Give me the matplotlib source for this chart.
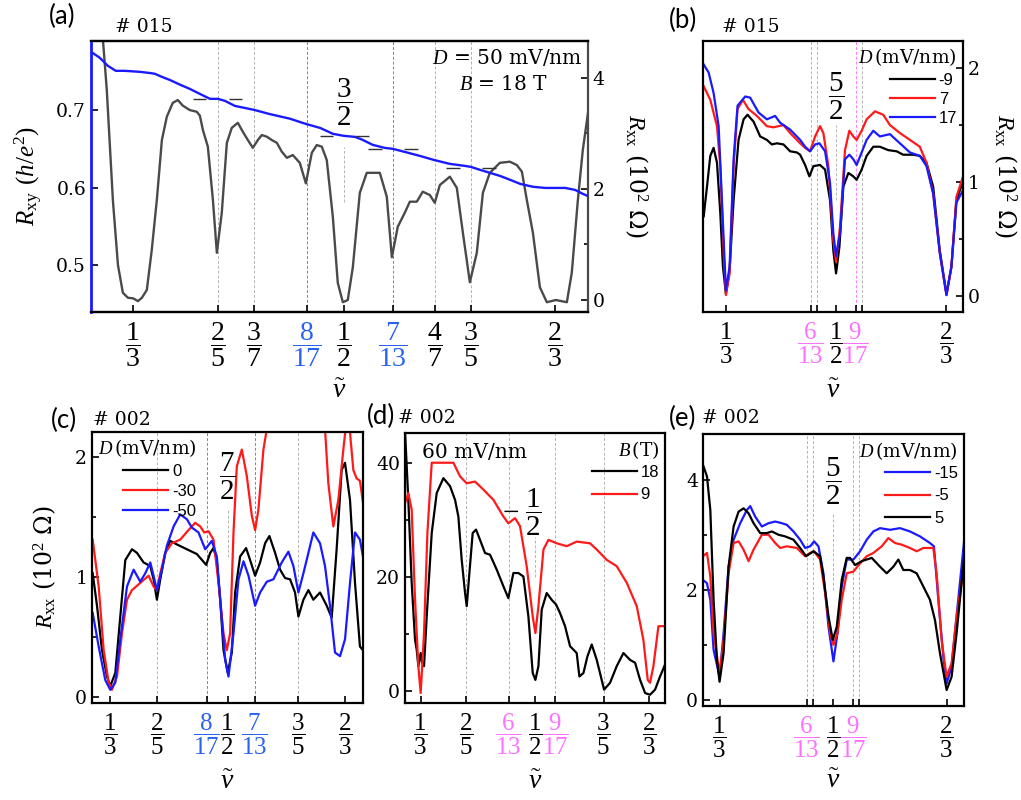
import matplotlib
matplotlib.use("Agg")
import matplotlib.pyplot as plt
from matplotlib.ticker import MultipleLocator

plt.rcParams["font.family"] = ["DejaVu Serif"]
plt.rcParams["mathtext.fontset"] = "custom"
plt.rcParams["mathtext.rm"] = "Liberation Serif"
plt.rcParams["mathtext.it"] = "Liberation Serif:italic"
plt.rcParams["mathtext.bf"] = "Liberation Serif:bold"

FRAC = {"1/3": 1/3, "2/5": 2/5, "3/7": 3/7, "6/13": 6/13, "8/17": 8/17, "1/2": 1/2,
        "9/17": 9/17, "7/13": 7/13, "4/7": 4/7, "3/5": 3/5, "2/3": 2/3}

GRAY_DASH = "#b4b4b4"
BLUE_DASH = "#5a82ff"
PINK_DASH = "#ff80ff"
BLUE_TXT = "#2a62f0"
PINK_TXT = "#ff70ff"
RED = "#ff1a1a"
BLUE = "#1a1aff"

# ---------- (a) sample #015, D = 50 mV/nm, B = 18 T
a_nu_xx = [0.3065, 0.3095, 0.3125, 0.3173, 0.3213, 0.3252, 0.3292, 0.3333, 0.3371, 0.3402,
           0.3441, 0.348, 0.352, 0.356, 0.3599, 0.3646, 0.3686, 0.3725, 0.378, 0.3835,
           0.386, 0.3884, 0.3923, 0.3963, 0.3994, 0.4033, 0.4073, 0.4112, 0.416, 0.4199,
           0.4239, 0.4278, 0.4318, 0.4349, 0.4389, 0.4428, 0.4468, 0.4507, 0.4547, 0.4594,
           0.4649, 0.4697, 0.4744, 0.4783, 0.4823, 0.4862, 0.491, 0.4949, 0.4989, 0.5028,
           0.5068, 0.5123, 0.5178, 0.5281, 0.5336, 0.5376, 0.5423, 0.5478, 0.5518, 0.5573,
           0.562, 0.5676, 0.5715, 0.5755, 0.5834, 0.5889, 0.5937, 0.5992, 0.6047, 0.6095,
           0.615, 0.6229, 0.6308, 0.6363, 0.6403, 0.6442, 0.649, 0.6545, 0.66, 0.6671,
           0.6758, 0.6797, 0.6845, 0.6884, 0.6925]
a_rxx = [5.2, 4.67, 3.78, 1.80, 0.63, 0.13, 0.04, 0.03, -0.02, 0.04,
         0.18, 0.90, 1.80, 2.88, 3.30, 3.55, 3.60, 3.50, 3.42, 3.39,
         3.32, 3.06, 2.76, 1.80, 0.85, 1.57, 2.83, 3.10, 3.19, 3.03,
         2.88, 2.74, 2.88, 2.97, 2.94, 2.88, 2.83, 2.67, 2.56, 2.61,
         2.47, 2.10, 2.65, 2.79, 2.76, 2.52, 1.50, 0.31, -0.04, 0.0,
         0.59, 1.93, 2.29, 2.29, 1.86, 0.77, 1.32, 1.57, 1.77, 1.77,
         1.95, 1.89, 1.75, 2.07, 2.22, 2.02, 1.21, 0.32, 0.85, 1.93,
         2.29, 2.47, 2.49, 2.43, 2.31, 1.80, 1.21, 0.23, -0.04, 0.0,
         -0.04, 0.49, 1.80, 2.70, 3.37]

a_nu_xy = [0.300, 0.307, 0.3133, 0.3196, 0.3267, 0.3386, 0.3465, 0.3504, 0.356, 0.3623,
           0.3702, 0.378, 0.386, 0.394, 0.4003, 0.4058, 0.4136, 0.4287, 0.441, 0.457,
           0.4697, 0.481, 0.4911, 0.4997, 0.5083, 0.514, 0.5226, 0.5321, 0.5384, 0.5479,
           0.5597, 0.5707, 0.5833, 0.5952, 0.600, 0.607, 0.615, 0.6229, 0.631, 0.639,
           0.649, 0.6586, 0.6745, 0.6822, 0.6886, 0.6925]
a_rxy = [0.7754, 0.7676, 0.7573, 0.7508, 0.7508, 0.7495, 0.748, 0.747, 0.743, 0.739,
         0.733, 0.7275, 0.721, 0.7146, 0.7146, 0.712, 0.7055, 0.7004, 0.695, 0.689,
         0.6822, 0.677, 0.6694, 0.6668, 0.6655, 0.662, 0.6551, 0.6512, 0.650, 0.646,
         0.6409, 0.6357, 0.6306, 0.628, 0.6267, 0.623, 0.619, 0.6151, 0.610, 0.6047,
         0.601, 0.5995, 0.5995, 0.597, 0.5917, 0.589]
a_plateaus = ["2/5", "1/2", "7/13", "3/5"]

# ---------- (b) sample #015, D (mV/nm) = -9, 7, 17
b_nu_m9 = [0.2997, 0.3047, 0.3097, 0.3147, 0.3198, 0.3248, 0.3288, 0.3333, 0.3389, 0.3449,
           0.3524, 0.36, 0.366, 0.3751, 0.3851, 0.3952, 0.4027, 0.4103, 0.4203, 0.4304,
           0.4404, 0.4455, 0.453, 0.4595, 0.4656, 0.4756, 0.4832, 0.4907, 0.4957, 0.4998,
           0.5048, 0.5108, 0.5184, 0.5259, 0.5309, 0.5385, 0.546, 0.5561, 0.5661, 0.5787,
           0.5913, 0.6013, 0.6164, 0.6264, 0.6365, 0.6466, 0.6566, 0.6667, 0.6742, 0.6817,
           0.6918]
b_m9 = [0.70, 0.96, 1.23, 1.30, 1.17, 0.73, 0.26, 0.02, 0.23, 0.84,
        1.37, 1.55, 1.59, 1.53, 1.40, 1.37, 1.33, 1.34, 1.33, 1.27,
        1.26, 1.24, 1.15, 1.05, 1.14, 1.15, 1.11, 0.84, 0.40, 0.20,
        0.43, 0.96, 1.08, 1.05, 1.02, 1.11, 1.23, 1.31, 1.31, 1.28,
        1.27, 1.24, 1.24, 1.23, 1.17, 0.96, 0.40, 0.02, 0.26, 0.84,
        1.01]
b_nu_7 = [0.2997, 0.3097, 0.3198, 0.3248, 0.3298, 0.3333, 0.3389, 0.3449, 0.3509, 0.359,
          0.3675, 0.3801, 0.3952, 0.4052, 0.4203, 0.4304, 0.4455, 0.453, 0.4605, 0.4681,
          0.4756, 0.4806, 0.4882, 0.4957, 0.4998, 0.5058, 0.5133, 0.5199, 0.5259, 0.5309,
          0.5385, 0.546, 0.5586, 0.5711, 0.5812, 0.5963, 0.6114, 0.6264, 0.6365, 0.6466,
          0.6566, 0.6667, 0.6742, 0.6817, 0.6918]
b_7 = [1.84, 1.72, 1.49, 1.14, 0.40, 0.01, 0.20, 1.14, 1.64, 1.72,
       1.64, 1.58, 1.49, 1.48, 1.50, 1.43, 1.34, 1.30, 1.27, 1.40,
       1.49, 1.43, 1.14, 0.49, 0.30, 0.61, 1.28, 1.45, 1.40, 1.37,
       1.45, 1.55, 1.62, 1.59, 1.50, 1.43, 1.37, 1.31, 1.17, 0.90,
       0.38, 0.01, 0.26, 0.87, 1.05]
b_nu_17 = [0.2997, 0.3072, 0.3147, 0.3223, 0.3273, 0.3333, 0.3389, 0.3449, 0.3509, 0.3625,
           0.37, 0.3826, 0.3952, 0.4077, 0.4153, 0.4304, 0.4455, 0.453, 0.4605, 0.4681,
           0.4746, 0.4832, 0.4907, 0.4957, 0.4998, 0.5058, 0.5133, 0.5199, 0.5259, 0.5309,
           0.5385, 0.546, 0.5561, 0.5661, 0.5812, 0.5963, 0.6114, 0.6264, 0.6365, 0.6466,
           0.6566, 0.6667, 0.6742, 0.6817, 0.6918]
b_17 = [2.03, 1.96, 1.78, 1.49, 0.84, 0.05, 0.26, 1.20, 1.67, 1.75,
        1.74, 1.61, 1.55, 1.58, 1.52, 1.46, 1.37, 1.31, 1.27, 1.33,
        1.34, 1.27, 0.99, 0.55, 0.35, 0.55, 1.20, 1.24, 1.20, 1.15,
        1.26, 1.37, 1.45, 1.40, 1.42, 1.34, 1.26, 1.23, 1.14, 0.90,
        0.38, 0.01, 0.26, 0.82, 0.93]

# ---------- (c) sample #002, D (mV/nm) = 0, -30, -50
c_nu_0 = [0.3083, 0.3144, 0.3215, 0.3286, 0.3333, 0.3404, 0.3475, 0.3546, 0.3641, 0.3712,
          0.3806, 0.3901, 0.3948, 0.3995, 0.4043, 0.4113, 0.4184, 0.4279, 0.4421, 0.4563,
          0.4695, 0.4752, 0.4799, 0.4846, 0.4894, 0.4941, 0.5002, 0.5059, 0.5106, 0.5177,
          0.5262, 0.5319, 0.539, 0.5461, 0.5532, 0.5593, 0.5674, 0.5745, 0.5816, 0.5887,
          0.5957, 0.6005, 0.6076, 0.6147, 0.6217, 0.6312, 0.6407, 0.6478, 0.6548, 0.6619,
          0.6667, 0.6738, 0.6809, 0.6879, 0.6922]
c_0 = [1.03, 0.76, 0.39, 0.17, 0.09, 0.20, 0.67, 1.14, 1.23, 1.20,
       1.12, 1.09, 0.98, 0.81, 0.98, 1.20, 1.30, 1.27, 1.23, 1.19,
       1.10, 1.20, 1.24, 1.14, 0.81, 0.39, 0.20, 0.37, 0.87, 1.17,
       1.24, 1.14, 1.01, 1.12, 1.28, 1.34, 1.20, 1.06, 0.99, 0.98,
       0.87, 0.67, 0.81, 0.89, 0.81, 0.87, 0.76, 0.66, 1.23, 1.89,
       1.95, 1.64, 0.95, 0.42, 0.39]
c_nu_m30 = [0.3083, 0.3168, 0.3239, 0.331, 0.3357, 0.3428, 0.3499, 0.357, 0.3641, 0.3759,
            0.3877, 0.3948, 0.3995, 0.4043, 0.4113, 0.4208, 0.4326, 0.4444, 0.4539, 0.461,
            0.4667, 0.4728, 0.4799, 0.487, 0.4941, 0.4988, 0.5035, 0.5083, 0.513, 0.5201,
            0.5272, 0.5343, 0.539, 0.5437, 0.5508, 0.5556, 0.5603, 0.597, 0.6336, 0.6383,
            0.643, 0.6501, 0.6572, 0.6643, 0.669, 0.6714, 0.6747, 0.6785, 0.6832, 0.6879,
            0.6922]
c_m30 = [1.31, 0.92, 0.39, 0.12, 0.06, 0.17, 0.53, 0.81, 0.89, 0.95,
         1.01, 0.92, 0.89, 1.03, 1.20, 1.28, 1.31, 1.39, 1.45, 1.42,
         1.37, 1.38, 1.31, 0.95, 0.53, 0.39, 0.53, 1.37, 1.92, 2.06,
         1.84, 1.51, 1.39, 1.56, 2.06, 2.23, 2.48, float("nan"), 2.48, 2.23,
         1.78, 1.42, 1.64, 2.06, 2.31, 2.39, 2.14, 1.89, 1.82, 1.80,
         1.62]
c_nu_m50 = [0.3083, 0.3168, 0.3262, 0.3333, 0.3404, 0.3475, 0.357, 0.3664, 0.3759, 0.383,
            0.3901, 0.3948, 0.3995, 0.4066, 0.4137, 0.4232, 0.4326, 0.4421, 0.4492, 0.4586,
            0.4681, 0.4775, 0.4846, 0.4894, 0.4965, 0.5012, 0.5083, 0.5154, 0.5225, 0.5296,
            0.539, 0.5461, 0.5556, 0.565, 0.5768, 0.5863, 0.5934, 0.6005, 0.6076, 0.6147,
            0.6217, 0.6312, 0.6383, 0.6454, 0.6525, 0.6596, 0.6667, 0.6738, 0.6809, 0.6879,
            0.6922]
c_m50 = [0.70, 0.42, 0.14, 0.06, 0.12, 0.48, 0.92, 1.06, 0.96, 1.03,
         1.12, 1.01, 0.89, 1.06, 1.26, 1.42, 1.52, 1.48, 1.41, 1.37,
         1.23, 1.30, 1.17, 0.81, 0.31, 0.17, 0.53, 0.98, 1.13, 1.01,
         0.76, 0.87, 0.96, 0.98, 1.12, 1.21, 1.09, 0.87, 1.03, 1.20,
         1.37, 1.28, 1.09, 0.76, 0.37, 0.34, 0.48, 0.95, 1.37, 1.31,
         1.17]

# ---------- (d) sample #002, 60 mV/nm, B = 18 T and 9 T
d_nu_18 = [0.3105, 0.3153, 0.3202, 0.3251, 0.3275, 0.3299, 0.3333, 0.3353, 0.3382, 0.3421,
           0.3494, 0.3567, 0.3664, 0.3761, 0.3834, 0.3882, 0.3931, 0.398, 0.4004, 0.4043,
           0.4091, 0.414, 0.4198, 0.4271, 0.4344, 0.4441, 0.4538, 0.4611, 0.4684, 0.4757,
           0.483, 0.4903, 0.4966, 0.5005, 0.5049, 0.5097, 0.517, 0.5243, 0.5306, 0.5364,
           0.5437, 0.551, 0.5559, 0.5607, 0.5646, 0.5705, 0.5763, 0.5826, 0.5899, 0.6006,
           0.6093, 0.619, 0.6288, 0.6385, 0.6458, 0.6531, 0.6604, 0.6676, 0.6749, 0.6822,
           0.6895]
d_18 = [45.5, 33.5, 19.0, 9.0, 7.3, 4.4, 6.7, 5.0, 4.4, 13.1,
        27.7, 34.7, 37.3, 35.9, 33.5, 30.6, 23.0, 17.2, 14.9, 20.7,
        27.7, 28.3, 26.5, 24.2, 23.9, 21.3, 18.4, 16.3, 20.7, 20.7,
        20.1, 13.1, 3.2, 2.0, 4.4, 14.3, 17.2, 16.0, 15.2, 13.7,
        11.4, 7.9, 7.3, 6.7, 2.6, 3.2, 6.1, 8.2, 5.5, 0.3,
        1.5, 4.4, 6.7, 5.5, 5.0, 2.0, -0.3, -0.6, 0.3, 2.6,
        4.7]
d_nu_9 = [0.3105, 0.3153, 0.3202, 0.3251, 0.3299, 0.3333, 0.3382, 0.3431, 0.3494, 0.381,
          0.3907, 0.4004, 0.4125, 0.4247, 0.4393, 0.4538, 0.4611, 0.4708, 0.4781, 0.4878,
          0.4966, 0.5005, 0.5049, 0.5122, 0.5194, 0.5316, 0.5462, 0.5607, 0.5802, 0.5899,
          0.6045, 0.619, 0.6336, 0.6482, 0.6579, 0.6642, 0.6676, 0.6725, 0.6798, 0.6895]
d_9 = [32.9, 34.7, 31.8, 16.0, 4.4, -0.3, 10.2, 27.7, 40.0, 40.0,
       37.6, 36.4, 36.7, 35.3, 33.5, 30.6, 29.4, 30.3, 28.9, 21.9,
       13.1, 10.2, 14.9, 24.8, 26.5, 25.9, 25.4, 26.2, 25.9, 24.8,
       23.0, 21.9, 19.0, 14.9, 9.0, 2.0, 1.5, 4.4, 11.4, 11.4]

# ---------- (e) sample #002, D (mV/nm) = -15, -5, 5
e_nu_m15 = [0.3089, 0.3148, 0.3197, 0.3245, 0.3333, 0.3392, 0.3465, 0.3539, 0.3636, 0.3734,
            0.3783, 0.3856, 0.3954, 0.4052, 0.415, 0.4247, 0.4321, 0.4418, 0.4516, 0.4589,
            0.4663, 0.4721, 0.4785, 0.4858, 0.4932, 0.5005, 0.5064, 0.5127, 0.52, 0.5298,
            0.5396, 0.5494, 0.5591, 0.5689, 0.5836, 0.5982, 0.6129, 0.6276, 0.6422, 0.6481,
            0.6545, 0.6618, 0.6667, 0.674, 0.6813, 0.6921]
e_m15 = [2.18, 2.12, 1.82, 0.91, 0.42, 1.21, 2.42, 2.91, 3.21, 3.45,
         3.52, 3.33, 3.15, 3.21, 3.24, 3.21, 3.18, 3.06, 2.91, 2.76,
         2.79, 2.88, 2.79, 2.30, 1.33, 0.70, 1.21, 2.06, 2.55, 2.55,
         2.70, 2.91, 3.06, 3.12, 3.09, 3.12, 3.06, 2.97, 2.85, 2.79,
         1.82, 0.79, 0.30, 0.61, 1.52, 2.85]
e_nu_m5 = [0.3089, 0.3148, 0.3197, 0.3245, 0.3333, 0.3392, 0.3465, 0.3539, 0.3612, 0.3685,
           0.3759, 0.3832, 0.3954, 0.4052, 0.415, 0.4223, 0.4321, 0.4467, 0.4589, 0.4663,
           0.4721, 0.4809, 0.4883, 0.4956, 0.5005, 0.5064, 0.5127, 0.52, 0.5298, 0.5396,
           0.5494, 0.5591, 0.5714, 0.5811, 0.5909, 0.6007, 0.6129, 0.6227, 0.6325, 0.6471,
           0.652, 0.6593, 0.6667, 0.674, 0.6813, 0.6921]
e_m5 = [2.61, 2.67, 2.24, 1.21, 0.48, 1.09, 2.30, 2.85, 2.88, 2.73,
        2.52, 2.73, 3.00, 3.00, 2.85, 2.76, 2.79, 2.76, 2.61, 2.67,
        2.70, 2.55, 1.94, 1.21, 1.00, 1.21, 1.82, 2.30, 2.33, 2.48,
        2.61, 2.67, 2.79, 2.94, 2.85, 2.82, 2.76, 2.70, 2.76, 2.76,
        2.30, 1.09, 0.42, 0.67, 1.52, 2.42]
e_nu_5 = [0.3089, 0.3148, 0.3197, 0.3245, 0.3294, 0.3333, 0.3392, 0.3465, 0.3539, 0.3612,
          0.3685, 0.3759, 0.3832, 0.393, 0.4027, 0.4101, 0.4198, 0.4296, 0.4418, 0.4516,
          0.4604, 0.4712, 0.4809, 0.4858, 0.4932, 0.4995, 0.5054, 0.5127, 0.52, 0.5249,
          0.5323, 0.542, 0.5567, 0.5689, 0.5787, 0.5885, 0.5958, 0.6031, 0.6129, 0.6227,
          0.6325, 0.6422, 0.6496, 0.6569, 0.6667, 0.674, 0.6813, 0.6921]
e_5 = [4.27, 4.06, 3.45, 1.82, 0.73, 0.33, 0.85, 2.42, 3.15, 3.42,
       3.48, 3.39, 3.21, 3.03, 3.03, 3.06, 3.00, 2.97, 2.91, 2.76,
       2.61, 2.70, 2.61, 2.24, 1.52, 1.09, 1.33, 2.18, 2.58, 2.58,
       2.45, 2.52, 2.58, 2.42, 2.30, 2.42, 2.55, 2.36, 2.36, 2.30,
       2.06, 1.82, 1.45, 0.85, 0.18, 0.42, 1.21, 2.55]

FRAC_SIZE = 20


def frac_label(t):
    p, q = t.split("/")
    return r"$\dfrac{%s}{%s}$" % (p, q)


def nu_axis(ax, ticks, labelled, colors, xlim, size=FRAC_SIZE):
    ax.set_xticks([FRAC[t] for t in ticks])
    ax.set_xticklabels([frac_label(t) if t in labelled else "" for t in ticks])
    for lab, t in zip(ax.get_xticklabels(), ticks):
        lab.set_color(colors.get(t, "black"))
    ax.set_xlim(*xlim)
    ax.set_xlabel(r"$\tilde{\nu}$", fontsize=20)
    ax.xaxis.set_label_coords(0.5, -0.24)
    ax.tick_params(axis="x", direction="in", length=5, width=1.2, pad=6, labelsize=size)


def frame(ax):
    for s in ax.spines.values():
        s.set_linewidth(1.6)
    ax.tick_params(axis="y", which="both", direction="in", width=1.2, labelsize=13.5)
    ax.tick_params(axis="y", which="major", length=5)
    ax.tick_params(axis="y", which="minor", length=3)


def guides(ax, gray=(), blue=(), pink=(), half=None):
    for t in gray:
        ax.axvline(FRAC[t], color=GRAY_DASH, lw=0.7, dashes=(3, 2), zorder=0)
    for t in blue:
        ax.axvline(FRAC[t], color=BLUE_DASH, lw=0.7, dashes=(3, 2), zorder=0)
    for t in pink:
        ax.axvline(FRAC[t], color=PINK_DASH, lw=0.7, dashes=(3, 2), zorder=0)
    if half is not None:
        ax.axvline(0.5, ymin=half[0], ymax=half[1], color=GRAY_DASH, lw=0.7,
                   dashes=(3, 2), zorder=0)


def frac_note(ax, text, y):
    ax.text(0.5, y, text, transform=ax.get_xaxis_transform(), ha="center", va="center",
            fontsize=FRAC_SIZE + 1)


def legend(ax, title, loc, spacing):
    leg = ax.legend(title=title, loc=loc, frameon=False, handlelength=2.7,
                    handletextpad=0.25, labelspacing=spacing, borderaxespad=0.15,
                    borderpad=0.2, alignment="right",
                    prop={"family": "Liberation Sans", "size": 12},
                    title_fontproperties={"family": "DejaVu Serif", "size": 13.5})
    leg._legend_box.sep = 3
    return leg


RXX_LABEL = r"$R_{\rm xx}$ (10$^2$ Ω)"
TIGHT = 18

fig = plt.figure(figsize=(10.21, 8.0), dpi=100)

# ---------- panel (a)
ax = fig.add_axes([0.0891, 0.61, 0.4868, 0.339])
ax2 = ax.twinx()
ax.set_zorder(ax2.get_zorder() + 1)
ax.patch.set_visible(False)
guides(ax2, gray=["2/5", "3/7", "4/7", "3/5"], blue=["8/17", "7/13"], half=(0.406, 0.609))
ax2.plot(a_nu_xx, a_rxx, color="#4a4a4a", lw=1.7)
ax.plot(a_nu_xy, a_rxy, color=BLUE, lw=1.7)
for t in a_plateaus:
    nu = FRAC[t]
    level = 1 / (1 + nu)
    ax.hlines([level, level], [nu - 0.0195, nu + 0.0088], [nu - 0.0088, nu + 0.0195],
              color="#333333", lw=1.0)
ax.set_ylim(0.4392, 0.7896)
ax.set_yticks([0.5, 0.6, 0.7])
ax2.set_ylim(-0.216, 4.667)
ax2.set_yticks([0, 2, 4])
ax2.yaxis.set_minor_locator(MultipleLocator(1))
frame(ax)
frame(ax2)
ax.spines["left"].set_color(BLUE)
ax.spines["left"].set_linewidth(2.0)
ax2.spines["left"].set_visible(False)
ax2.spines["right"].set_color("#4a4a4a")
ax.spines["right"].set_visible(False)
nu_axis(ax, ["1/3", "2/5", "3/7", "8/17", "1/2", "7/13", "4/7", "3/5", "2/3"],
        ["1/3", "2/5", "3/7", "8/17", "1/2", "7/13", "4/7", "3/5", "2/3"],
        {"8/17": BLUE_TXT, "7/13": BLUE_TXT}, (0.300, 0.6925))
ax2.set_xlim(0.300, 0.6925)
ax.set_ylabel(r"$R_{\rm xy}$ $(h/e^2)$", fontsize=18, labelpad=8)
ax2.set_ylabel(RXX_LABEL, fontsize=17, rotation=270, labelpad=32)
frac_note(ax, r"$\dfrac{3}{2}$", 0.771)
ax.text(0.99, 0.937, r"$D$ = 50 mV/nm", transform=ax.transAxes, ha="right", va="center",
        fontsize=14.5)
ax.text(0.92, 0.838, r"$B$ = 18 T", transform=ax.transAxes, ha="right", va="center",
        fontsize=14.5)

# ---------- panel (b)
bx = fig.add_axes([0.6885, 0.61, 0.2547, 0.339])
guides(bx, gray=["8/17", "7/13"], pink=["6/13", "9/17"], half=(0.413, 0.69))
bx.plot(b_nu_m9, b_m9, color="black", lw=1.6, label="-9")
bx.plot(b_nu_7, b_7, color=RED, lw=1.6, label="7")
bx.plot(b_nu_17, b_17, color=BLUE, lw=1.6, label="17")
bx.set_ylim(-0.138, 2.238)
bx.set_yticks([0, 1, 2])
bx.yaxis.set_minor_locator(MultipleLocator(0.5))
bx.yaxis.tick_right()
bx.yaxis.set_label_position("right")
frame(bx)
nu_axis(bx, ["1/3", "6/13", "8/17", "1/2", "9/17", "7/13", "2/3"],
        ["1/3", "6/13", "1/2", "9/17", "2/3"],
        {"6/13": PINK_TXT, "9/17": PINK_TXT}, (0.2986, 0.6917), size=TIGHT)
bx.set_ylabel(RXX_LABEL, fontsize=17, rotation=270, labelpad=28)
frac_note(bx, r"$\dfrac{5}{2}$", 0.793)
legend(bx, r"$D\,$(mV/nm)", "upper right", 0.25)

# ---------- panel (c)
cx = fig.add_axes([0.0901, 0.12125, 0.2654, 0.339])
guides(cx, gray=["2/5", "3/5"], blue=["8/17", "7/13"], half=(0.539, 0.712))
cx.plot(c_nu_0, c_0, color="black", lw=1.6, label="0")
cx.plot(c_nu_m30, c_m30, color=RED, lw=1.6, label="-30")
cx.plot(c_nu_m50, c_m50, color=BLUE, lw=1.6, label="-50")
cx.set_ylim(-0.05, 2.208)
cx.set_yticks([0, 1, 2])
cx.yaxis.set_minor_locator(MultipleLocator(0.5))
frame(cx)
nu_axis(cx, ["1/3", "2/5", "8/17", "1/2", "7/13", "3/5", "2/3"],
        ["1/3", "2/5", "8/17", "1/2", "7/13", "3/5", "2/3"],
        {"8/17": BLUE_TXT, "7/13": BLUE_TXT}, (0.3073, 0.6922), size=TIGHT)
cx.set_ylabel(RXX_LABEL, fontsize=17, labelpad=12)
frac_note(cx, r"$\dfrac{7}{2}$", 0.834)
legend(cx, r"$D\,$(mV/nm)", "upper left", 0.3)

# ---------- panel (d)
dx = fig.add_axes([0.3967, 0.12125, 0.2547, 0.3375])
guides(dx, gray=["2/5", "3/5"], pink=["6/13", "9/17"], half=(0.467, 0.615))
dx.plot(d_nu_18, d_18, color="black", lw=1.6, label="18")
dx.plot(d_nu_9, d_9, color=RED, lw=1.6, label="9")
dx.set_ylim(-2.04, 45.2)
dx.set_yticks([0, 20, 40])
dx.yaxis.set_minor_locator(MultipleLocator(10))
frame(dx)
nu_axis(dx, ["1/3", "2/5", "6/13", "1/2", "9/17", "3/5", "2/3"],
        ["1/3", "2/5", "6/13", "1/2", "9/17", "3/5", "2/3"],
        {"6/13": PINK_TXT, "9/17": PINK_TXT}, (0.3105, 0.6895), size=TIGHT)
dx.annotate(r"$-\ \dfrac{1}{2}$", xy=(0.5, 0.707), xycoords=dx.get_xaxis_transform(),
            xytext=(5, 0), textcoords="offset points", ha="right", va="center",
            fontsize=FRAC_SIZE + 1)
dx.text(0.065, 0.926, "60 mV/nm", transform=dx.transAxes, ha="left", va="center",
        fontsize=14.5)
legend(dx, r"$B\,$(T)", "upper right", 0.45)

# ---------- panel (e)
ex = fig.add_axes([0.6885, 0.1175, 0.2556, 0.34])
guides(ex, gray=["8/17", "7/13"], pink=["6/13", "9/17"], half=(0.426, 0.71))
ex.plot(e_nu_m15, e_m15, color=BLUE, lw=1.6, label="-15")
ex.plot(e_nu_m5, e_m5, color=RED, lw=1.6, label="-5")
ex.plot(e_nu_5, e_5, color="black", lw=1.6, label="5")
ex.set_ylim(-0.11, 4.83)
ex.set_yticks([0, 2, 4])
ex.yaxis.set_minor_locator(MultipleLocator(1))
frame(ex)
nu_axis(ex, ["1/3", "6/13", "8/17", "1/2", "9/17", "7/13", "2/3"],
        ["1/3", "6/13", "1/2", "9/17", "2/3"],
        {"6/13": PINK_TXT, "9/17": PINK_TXT}, (0.3089, 0.6921), size=TIGHT)
ex.xaxis.set_label_coords(0.5, -0.225)
frac_note(ex, r"$\dfrac{5}{2}$", 0.824)
legend(ex, r"$D\,$(mV/nm)", "upper right", 0.45)

# ---------- panel tags and sample numbers
for tag, x, y in [("(a)", 0.0607, 0.979), ("(b)", 0.669, 0.975), ("(c)", 0.0627, 0.475),
                  ("(d)", 0.373, 0.479), ("(e)", 0.669, 0.4775)]:
    fig.text(x, y, tag, ha="center", va="center", fontsize=18.5, family="Lato")
for name, x, y in [("# 015", 0.1126, 0.966), ("# 015", 0.707, 0.966), ("# 002", 0.091, 0.475),
                   ("# 002", 0.39, 0.4775), ("# 002", 0.6876, 0.4775)]:
    fig.text(x, y, name, ha="left", va="center", fontsize=13.5)

fig.savefig("out.png", dpi=100)
